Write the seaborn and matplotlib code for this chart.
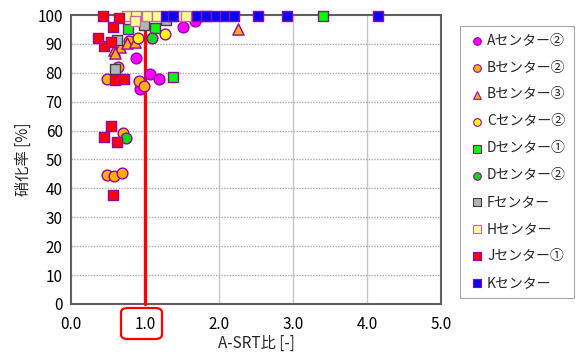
import matplotlib
matplotlib.use("Agg")
import matplotlib.pyplot as plt
from matplotlib.patches import FancyBboxPatch
import seaborn as sns
import pandas as pd

sns.set_style("white")
plt.rcParams['font.family'] = ['Noto Sans CJK JP', 'DejaVu Sans']

# ---- data ----
series_names = ["Aセンター②", "Bセンター②", "Bセンター③", "Cセンター②", "Dセンター①",
                "Dセンター②", "Fセンター", "Hセンター", "Jセンター①", "Kセンター"]

a2_x = [0.88, 1.07, 1.19, 0.93, 1.52, 1.67]
a2_y = [85.2, 79.7, 77.7, 74.3, 95.8, 97.8]

b2_x = [0.49, 0.92, 0.98, 0.64, 0.70, 0.48, 0.58, 0.69, 0.78]
b2_y = [77.9, 77.0, 75.3, 82.0, 59.0, 44.6, 44.3, 45.4, 91.0]

b3_x = [0.58, 0.66, 0.75, 0.86, 0.59, 2.26]
b3_y = [87.9, 89.1, 90.2, 90.8, 86.7, 95.0]

c2_x = [0.90, 1.27]
c2_y = [92.0, 93.3]

d1_x = [0.77, 1.14, 1.38, 3.40]
d1_y = [95.0, 95.5, 78.5, 99.6]

d2_x = [1.10, 0.74]
d2_y = [92.0, 57.5]

f_x = [0.59, 0.62, 0.98, 1.29, 1.83]
f_y = [81.2, 91.3, 96.5, 98.3, 99.5]

h_x = [0.75, 0.88, 1.03, 1.16, 1.43, 1.55, 0.86]
h_y = [99.8, 99.8, 99.6, 99.6, 99.6, 99.6, 98.0]

j_x = [0.43, 0.65, 0.57, 0.36, 0.45, 0.54, 0.59, 0.71, 0.54, 0.45, 0.62, 0.57]
j_y = [99.5, 99.0, 96.0, 92.2, 89.3, 90.5, 77.5, 77.9, 61.7, 57.9, 56.0, 37.7]

k_x = [1.28, 1.38, 1.70, 1.83, 1.96, 2.08, 2.20, 2.53, 2.92, 4.15]
k_y = [99.8, 99.8, 99.8, 99.8, 99.8, 99.8, 99.8, 99.6, 99.6, 99.6]

xs = [a2_x, b2_x, b3_x, c2_x, d1_x, d2_x, f_x, h_x, j_x, k_x]
ys = [a2_y, b2_y, b3_y, c2_y, d1_y, d2_y, f_y, h_y, j_y, k_y]

x_ticks = [0.0, 1.0, 2.0, 3.0, 4.0, 5.0]
y_ticks = list(range(0, 101, 10))

# ---- styles ----
colors = ["#ff00ff", "#ffb000", "#ffb000", "#ffff00", "#00ff00", "#00e000",
          "#b4b4b4", "#ffff99", "#ff0000", "#0000ff"]
markers = ["o", "o", "^", "o", "s", "o", "s", "s", "s", "s"]
edges = ["#9900aa", "#9900aa", "#9900aa", "#9900aa", "#9900aa", "#9900aa",
         "#404040", "#cc66aa", "#9900aa", "#9900aa"]

rows = []
for name, xv, yv in zip(series_names, xs, ys):
    for a, b in zip(xv, yv):
        rows.append({"series": name, "x": a, "y": b})
df = pd.DataFrame(rows)

fig = plt.figure(figsize=(5.83, 3.58), dpi=100)
ax = fig.add_axes([0.1218, 0.151, 0.6346, 0.807])

ax.set_xlim(0, 5)
ax.set_ylim(0, 100)
ax.set_xticks(x_ticks)
ax.set_xticklabels([f"{v:.1f}" for v in x_ticks])
ax.set_yticks(y_ticks)
ax.tick_params(axis='both', length=0, labelsize=11, colors="#000000")
ax.tick_params(axis='x', pad=9)
ax.tick_params(axis='y', pad=6)

for v in x_ticks[1:-1]:
    ax.axvline(v, color="#c8c8c8", lw=1.0, zorder=0)
for v in y_ticks[1:-1]:
    ax.axhline(v, color="#a8a8a8", lw=1.0, ls=(0, (1, 1)), zorder=0)

for sp in ax.spines.values():
    sp.set_color("#606060")
    sp.set_linewidth(1.5)

# red reference line at 1.0
ax.plot([1.0, 1.0], [0, 100], color="#ff0000", lw=2.4, zorder=4, clip_on=False)

handles = []
for name, col, mk, ec in zip(series_names, colors, markers, edges):
    sub = df[df["series"] == name]
    sz = 60 if mk != "^" else 65
    sns.scatterplot(data=sub, x="x", y="y", ax=ax, marker=mk, color=col,
                    edgecolor=ec, linewidth=1.0, s=sz, zorder=5, clip_on=False,
                    legend=False)
    h = ax.scatter([], [], marker=mk, color=col, edgecolor=ec, linewidths=0.8, s=30)
    handles.append(h)

ax.set_xlabel("A-SRT比 [-]", fontsize=11, labelpad=1)
ax.set_ylabel("硝化率 [%]", fontsize=11, labelpad=4)

leg = fig.legend(handles, series_names, loc="upper left",
                 bbox_to_anchor=(460 / 583, 1 - 26 / 358), frameon=True,
                 fontsize=10, handletextpad=0.1, labelspacing=0.93,
                 borderpad=0.55, fancybox=False, handlelength=1.3,
                 borderaxespad=0)
leg.get_frame().set_edgecolor("#909090")
leg.get_frame().set_linewidth(0.8)

# red rounded box around the 1.0 tick label
box = FancyBboxPatch((121 / 583, 1 - 339 / 358), 41 / 583, 31 / 358,
                     boxstyle="round,pad=0,rounding_size=0.012",
                     transform=fig.transFigure, fill=False,
                     edgecolor="#ff0000", lw=1.6)
fig.patches.append(box)

fig.savefig("out.png", dpi=100)
